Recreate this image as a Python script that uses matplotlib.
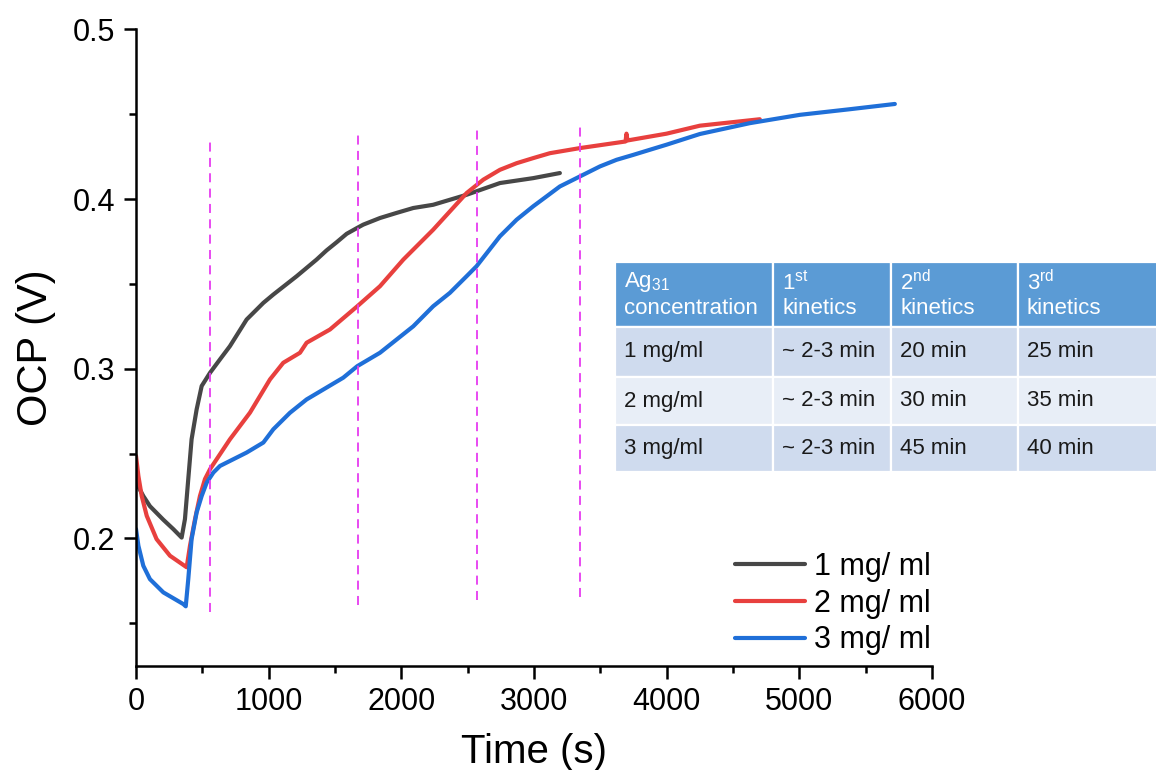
import numpy as np
import matplotlib
matplotlib.use("Agg")
import matplotlib.pyplot as plt
from matplotlib.patches import Rectangle
from matplotlib.ticker import MultipleLocator

plt.rcParams['font.family'] = ['Liberation Sans', 'DejaVu Sans']
plt.rcParams['mathtext.fontset'] = 'custom'
plt.rcParams['mathtext.rm'] = 'Liberation Sans'
plt.rcParams['mathtext.it'] = 'Liberation Sans'

# ---------------- data ----------------
t_1mg = [0, 55, 105, 206, 281, 344, 369, 394, 419, 457, 495, 558, 633, 708, 834, 960,
         1035, 1211, 1361, 1436, 1512, 1588, 1668, 1713, 1839, 1964, 2090, 2240, 2492,
         2743, 2994, 3195]
v_1mg = [0.233, 0.225, 0.219, 0.211, 0.2055, 0.2005, 0.2114, 0.235, 0.2584, 0.276,
         0.2898, 0.2976, 0.3055, 0.3133, 0.329, 0.3388, 0.3437, 0.3545, 0.3643, 0.3697,
         0.3745, 0.3795, 0.383, 0.3849, 0.3888, 0.3918, 0.3947, 0.3966, 0.4025, 0.4094,
         0.4123, 0.4153]

t_2mg = [0, 18, 43, 81, 155, 256, 382, 407, 445, 482, 520, 558, 708, 859, 1010, 1110,
         1236, 1286, 1462, 1668, 1839, 2015, 2240, 2366, 2492, 2618, 2743, 2869, 2994,
         3120, 3346, 3690, 3697, 3705, 3999, 4250, 4702]
v_2mg = [0.2486, 0.2368, 0.225, 0.2133, 0.1996, 0.1898, 0.183, 0.1957, 0.2114, 0.225,
         0.235, 0.2408, 0.2584, 0.2741, 0.2937, 0.3035, 0.3094, 0.3153, 0.3231, 0.3368,
         0.3486, 0.3643, 0.3819, 0.3927, 0.4035, 0.4114, 0.4172, 0.4211, 0.4241, 0.427,
         0.430, 0.4339, 0.4385, 0.4345, 0.4385, 0.4432, 0.447]

t_3mg = [0, 18, 55, 105, 206, 357, 375, 394, 419, 457, 495, 533, 583, 633, 834, 960,
         1035, 1160, 1286, 1562, 1668, 1839, 2090, 2240, 2366, 2492, 2567, 2743,
         2869, 2994, 3094, 3195, 3346, 3497, 3622, 3748, 3873, 3999, 4250, 4627, 5004,
         5380, 5720]
v_3mg = [0.2055, 0.1957, 0.1839, 0.176, 0.1682, 0.1613, 0.160, 0.176, 0.1996, 0.2153,
         0.225, 0.2329, 0.2388, 0.2427, 0.2506, 0.2565, 0.2643, 0.274, 0.2819, 0.2947,
         0.3015, 0.3094, 0.325, 0.3368, 0.3447, 0.3545, 0.3604, 0.378, 0.3878,
         0.3957, 0.4015, 0.4074, 0.4133, 0.4192, 0.4231, 0.426, 0.429, 0.432, 0.4383,
         0.4447, 0.4496, 0.4529, 0.456]

labels = ['1 mg/ ml', '2 mg/ ml', '3 mg/ ml']
colors = ['#474747', '#E8403E', '#1F6FD8']

# kinetics boundaries (dashed markers): x position, y bottom, y top
kin_x = [558, 1673, 2570, 3346]
kin_ylo = [0.1566, 0.161, 0.1637, 0.1655]
kin_yhi = [0.436, 0.4396, 0.4437, 0.4455]

# table content
tbl_header = ['Ag$_{31}$\nconcentration', '1$^{\\mathrm{st}}$\nkinetics',
              '2$^{\\mathrm{nd}}$\nkinetics', '3$^{\\mathrm{rd}}$\nkinetics']
tbl_rows = [['1 mg/ml', '~ 2-3 min', '20 min', '25 min'],
            ['2 mg/ml', '~ 2-3 min', '30 min', '35 min'],
            ['3 mg/ml', '~ 2-3 min', '45 min', '40 min']]

# ---------------- plot ----------------
W, H = 1156, 770
fig = plt.figure(figsize=(W / 100, H / 100), dpi=100)
ax = fig.add_axes([136 / W, 1 - 665.7 / H, (932 - 136) / W, (665.7 - 29.3) / H])

for t, v, lab, c in zip([t_1mg, t_2mg, t_3mg], [v_1mg, v_2mg, v_3mg], labels, colors):
    ax.plot(t, v, color=c, lw=3.0, label=lab, solid_capstyle='round',
            solid_joinstyle='round')

for x, lo, hi in zip(kin_x, kin_ylo, kin_yhi):
    ax.plot([x, x], [lo, hi], color='#E63CF0', lw=1.3, ls=(0, (5, 3.5)))

ax.set_xlim(0, 6000)
ax.set_ylim(0.125, 0.5)
ax.xaxis.set_major_locator(MultipleLocator(1000))
ax.xaxis.set_minor_locator(MultipleLocator(500))
ax.yaxis.set_major_locator(MultipleLocator(0.1))
ax.yaxis.set_minor_locator(MultipleLocator(0.05))
ax.yaxis.set_major_formatter(plt.FuncFormatter(lambda v, p: f'{v:.1f}'))
ax.spines['top'].set_visible(False)
ax.spines['right'].set_visible(False)
for s in ['left', 'bottom']:
    ax.spines[s].set_linewidth(1.8)
ax.tick_params(which='major', direction='out', length=9, width=1.8, labelsize=22, pad=6)
ax.tick_params(which='minor', direction='out', length=5, width=1.8)

ax.set_xlabel('Time (s)', fontsize=29, labelpad=12)
ax.set_ylabel('OCP (V)', fontsize=30, labelpad=12)

ax.legend(loc='lower right', bbox_to_anchor=(1.014, -0.003), frameon=False, fontsize=22,
          handlelength=2.3, handletextpad=0.3, labelspacing=0.22, borderaxespad=0.0)

# table drawn in figure pixel coordinates
col_edges = [615, 773, 891, 1018, 1160]
row_edges = [262, 327, 377, 425, 472]
row_fill = ['#5B9BD5', '#CFDBEE', '#E8EEF7', '#CFDBEE']
for r in range(4):
    for c in range(4):
        x0, x1 = col_edges[c], col_edges[c + 1]
        y0, y1 = row_edges[r], row_edges[r + 1]
        fig.add_artist(Rectangle((x0 / W, 1 - y1 / H), (x1 - x0) / W, (y1 - y0) / H,
                                 transform=fig.transFigure, facecolor=row_fill[r],
                                 edgecolor='white', lw=1.6))
        tx = (x0 + 9) / W
        ty = 1 - (y0 + y1) / 2 / H
        if r == 0:
            fig.text(tx, ty, tbl_header[c], color='white', fontsize=16,
                     ha='left', va='center', linespacing=1.2)
        else:
            fig.text(tx, ty, tbl_rows[r - 1][c], color='#1a1a1a', fontsize=16,
                     ha='left', va='center')

fig.savefig('out.png', dpi=100)
